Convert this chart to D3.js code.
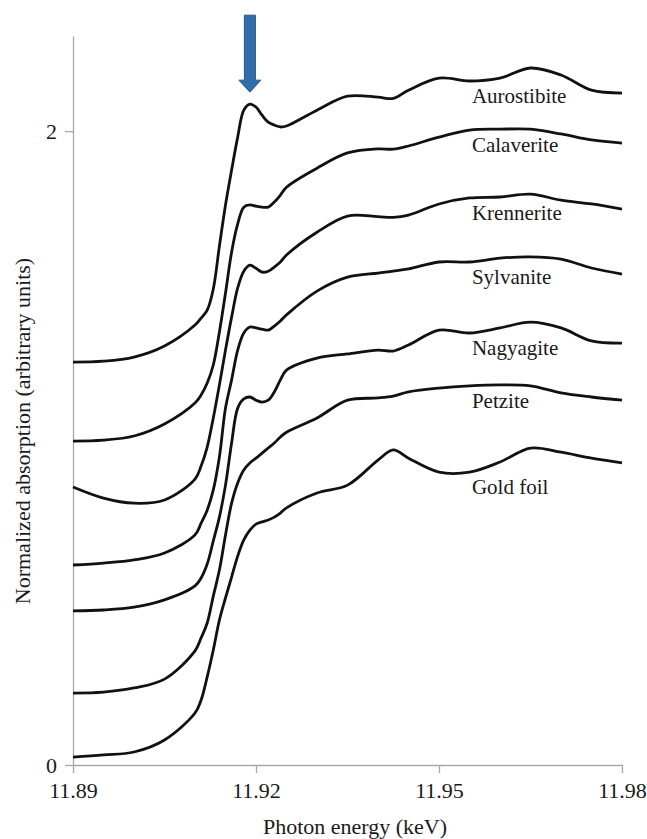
<!DOCTYPE html>
<html>
<head>
<meta charset="utf-8">
<script src="https://cdn.jsdelivr.net/npm/d3@7"></script>
<style>
  body { margin: 0; background: #fff; }
  svg { display: block; }
  text { font-family: "Liberation Serif", "Times New Roman", serif; fill: #1a1a1a; }
</style>
</head>
<body>
<svg id="chart" width="647" height="839"></svg>
<script>
// Photon energy grid (keV), shared by every spectrum
const energy = [11.89, 11.895, 11.9, 11.905,
  11.91, 11.911, 11.912, 11.913, 11.914, 11.915, 11.916, 11.917,
  11.918, 11.919, 11.92, 11.921, 11.922, 11.923, 11.924, 11.925,
  11.93, 11.935, 11.94, 11.9425, 11.945, 11.95, 11.955, 11.96,
  11.965, 11.97, 11.975, 11.98];

// Normalized absorption (stacked, arbitrary units)
const aurostibite = [1.271, 1.274, 1.287, 1.322,
  1.388, 1.410, 1.435, 1.502, 1.637, 1.767, 1.877, 1.981,
  2.066, 2.085, 2.076, 2.050, 2.028, 2.019, 2.013, 2.016,
  2.066, 2.110, 2.107, 2.103, 2.129, 2.167, 2.158, 2.167,
  2.199, 2.177, 2.129, 2.120];
const calaverite = [1.022, 1.025, 1.038, 1.076,
  1.142, 1.167, 1.205, 1.262, 1.366, 1.489, 1.618, 1.707,
  1.760, 1.767, 1.763, 1.760, 1.760, 1.776, 1.798, 1.823,
  1.883, 1.931, 1.944, 1.943, 1.953, 1.981, 2.003, 2.006,
  2.006, 1.991, 1.972, 1.962];
const krennerite = [0.877, 0.842, 0.826, 0.836,
  0.902, 0.943, 1.003, 1.095, 1.199, 1.309, 1.413, 1.505,
  1.558, 1.577, 1.567, 1.555, 1.558, 1.571, 1.587, 1.609,
  1.681, 1.732, 1.730, 1.728, 1.735, 1.770, 1.789, 1.792,
  1.801, 1.782, 1.770, 1.754];
const sylvanite = [0.631, 0.637, 0.647, 0.669,
  0.726, 0.763, 0.804, 0.868, 0.972, 1.126, 1.215, 1.309,
  1.363, 1.382, 1.379, 1.375, 1.372, 1.385, 1.401, 1.420,
  1.495, 1.539, 1.552, 1.558, 1.565, 1.587, 1.587, 1.599,
  1.603, 1.596, 1.568, 1.549];
const nagyagite = [0.486, 0.489, 0.498, 0.521,
  0.565, 0.590, 0.634, 0.707, 0.782, 0.883, 1.016, 1.126,
  1.155, 1.161, 1.151, 1.145, 1.151, 1.177, 1.215, 1.246,
  1.284, 1.297, 1.309, 1.306, 1.325, 1.372, 1.363, 1.379,
  1.397, 1.379, 1.338, 1.331];
const petzite = [0.227, 0.230, 0.243, 0.271,
  0.360, 0.401, 0.448, 0.533, 0.615, 0.726, 0.826, 0.890,
  0.931, 0.953, 0.968, 0.984, 1.000, 1.016, 1.035, 1.050,
  1.095, 1.151, 1.158, 1.164, 1.177, 1.189, 1.196, 1.199,
  1.196, 1.174, 1.161, 1.151];
const goldFoil = [0.025, 0.032, 0.041, 0.079,
  0.164, 0.205, 0.278, 0.363, 0.457, 0.527, 0.593, 0.659,
  0.710, 0.741, 0.760, 0.767, 0.773, 0.782, 0.795, 0.811,
  0.858, 0.883, 0.962, 0.994, 0.968, 0.924, 0.924, 0.956,
  1.000, 0.987, 0.968, 0.953];

const names = ["Aurostibite", "Calaverite", "Krennerite", "Sylvanite", "Nagyagite", "Petzite", "Gold foil"];
const series = [aurostibite, calaverite, krennerite, sylvanite, nagyagite, petzite, goldFoil];

const xTicks = [11.89, 11.92, 11.95, 11.98];
const yTicks = [0, 2];
const arrowEnergy = 11.919; // white-line peak marker
const labelEnergy = 11.9554;

const serif = '"Liberation Serif", "Times New Roman", serif';
const svg = d3.select("#chart");

// Scales
const x = d3.scaleLinear().domain([11.89, 11.98]).range([73, 622]);
const y = d3.scaleLinear().domain([0, 2.3]).range([765, 36]);

// Axes
const axisColor = "#a8a8a8";
const gx = svg.append("g")
  .attr("transform", `translate(0,${y(0)})`)
  .call(d3.axisBottom(x).tickValues(xTicks).tickFormat(d3.format(".2f"))
    .tickSize(8).tickSizeOuter(0).tickPadding(9));
const gy = svg.append("g")
  .attr("transform", `translate(${x(11.89)},0)`)
  .call(d3.axisLeft(y).tickValues(yTicks).tickFormat(d3.format("d"))
    .tickSize(8).tickSizeOuter(0).tickPadding(8));

[gx, gy].forEach((g) => {
  g.attr("font-family", serif).attr("font-size", 22);
  g.select(".domain").attr("stroke", axisColor).attr("stroke-width", 1.3);
  g.selectAll(".tick line").attr("stroke", axisColor).attr("stroke-width", 1.3);
  g.selectAll(".tick text").attr("fill", "#1a1a1a");
});

// Axis titles
svg.append("text")
  .attr("x", 355).attr("y", 834)
  .attr("text-anchor", "middle")
  .style("font-size", "22px")
  .text("Photon energy (keV)");

svg.append("text")
  .attr("transform", "translate(30,431) rotate(-90)")
  .attr("text-anchor", "middle")
  .style("font-size", "22px")
  .text("Normalized absorption (arbitrary units)");

// Spectra
const line = d3.line()
  .x((d) => x(d[0]))
  .y((d) => y(d[1]))
  .curve(d3.curveCatmullRom.alpha(0.5));

const labelIdx = energy.indexOf(11.955);

series.forEach((vals, i) => {
  const pts = energy.map((e, j) => [e, vals[j]]);
  svg.append("path")
    .attr("d", line(pts))
    .attr("fill", "none")
    .attr("stroke", "#111")
    .attr("stroke-width", 2.8)
    .attr("stroke-linejoin", "round");

  svg.append("text")
    .attr("x", x(labelEnergy))
    .attr("y", y(vals[labelIdx]) + 22)
    .style("font-size", "21px")
    .text(names[i]);
});

// Blue arrow pointing at the aurostibite white line
const peak = aurostibite[energy.indexOf(arrowEnergy)];
const ax = x(arrowEnergy);
const tipY = y(peak) - 12;
const arrow = [
  [ax - 5.5, tipY - 77], [ax + 5.5, tipY - 77], [ax + 5.5, tipY - 12],
  [ax + 11, tipY - 12], [ax, tipY], [ax - 11, tipY - 12], [ax - 5.5, tipY - 12]
];
svg.append("path")
  .attr("d", d3.line()(arrow) + "Z")
  .attr("fill", "#2f6eaa")
  .attr("stroke", "#25598c")
  .attr("stroke-width", 1)
  .attr("stroke-linejoin", "round");
</script>
</body>
</html>
